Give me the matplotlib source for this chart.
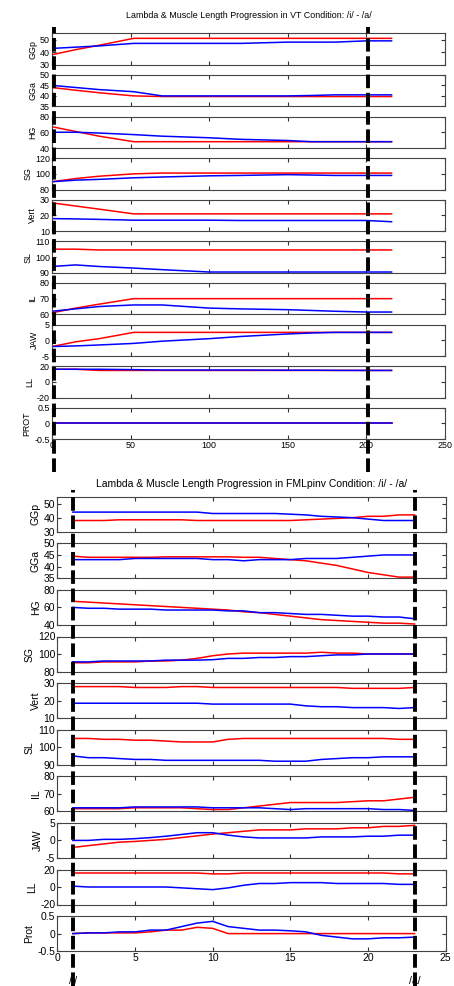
import matplotlib
matplotlib.use('Agg')
import matplotlib.pyplot as plt
import matplotlib.transforms as mtransforms
from matplotlib.ticker import FormatStrFormatter

plt.rcParams['font.family'] = ['Liberation Sans', 'DejaVu Sans']
plt.rcParams['axes.unicode_minus'] = False

W, H = 454, 986

# ---- shared axis setup ----
muscles_vt = ['GGp', 'GGa', 'HG', 'SG', 'Vert', 'SL', 'IL', 'JAW', 'LL', 'PROT']
muscles_fml = ['GGp', 'GGa', 'HG', 'SG', 'Vert', 'SL', 'IL', 'JAW', 'LL', 'Prot']
y_limits = [(30, 55), (35, 50), (40, 80), (80, 120), (10, 30),
            (90, 110), (60, 80), (-5, 5), (-20, 20), (-0.5, 0.5)]
y_ticks = [[30, 40, 50], [35, 40, 45, 50], [40, 60, 80], [80, 100, 120], [10, 20, 30],
           [90, 100, 110], [60, 70, 80], [-5, 0, 5], [-20, 0, 20], [-0.5, 0, 0.5]]

# ---- VT condition (top) ----
vt_t = [0, 15, 30, 52, 70, 100, 120, 150, 165, 180, 200, 216]
vt_onset, vt_offset = 1, 201
vt_xticks = [0, 50, 100, 150, 200, 250]

vt_ggp_red = [38, 42, 45.5, 51, 51, 51, 51, 51, 51, 51, 51, 51]
vt_ggp_blue = [43, 44, 45, 47, 47, 47, 47, 48, 48, 48, 49, 49]
vt_gga_red = [44, 42.7, 41.5, 40, 39.7, 39.7, 39.7, 39.7, 39.7, 39.7, 39.7, 39.7]
vt_gga_blue = [45, 44, 43, 42, 40, 40, 40, 40, 40.2, 40.5, 40.5, 40.5]
vt_hg_red = [67, 61, 55, 48, 48, 48, 48, 48, 48, 48, 48, 48]
vt_hg_blue = [60, 60, 59, 57, 55, 53, 51, 49.5, 48, 48, 48, 48]
vt_sg_red = [90, 94, 97, 100, 101, 101, 101, 101, 101, 101, 101, 101]
vt_sg_blue = [90, 92, 93, 95, 96, 97.5, 98, 99, 98.5, 98, 98, 98]
vt_vert_red = [28, 26, 24, 21, 21, 21, 21, 21, 21, 21, 21, 21]
vt_vert_blue = [18, 17.8, 17.5, 17, 17, 17, 16.8, 16.8, 16.8, 16.8, 16.8, 16]
vt_sl_red = [105, 105, 104.5, 104.5, 104.5, 104.5, 104.5, 104.5, 104.5, 104.5, 104.5, 104.5]
vt_sl_blue = [94, 95, 94, 93, 92, 90.5, 90.5, 90.5, 90.5, 90.5, 90.5, 90.5]
vt_il_red = [61, 64, 66.5, 70, 70, 70, 70, 70, 70, 70, 70, 70]
vt_il_blue = [62, 63.5, 65, 66, 66, 64, 63.5, 63, 62.5, 62, 61.5, 61.5]
vt_jaw_red = [-2, -0.5, 0.5, 2.5, 2.5, 2.5, 2.5, 2.5, 2.5, 2.5, 2.5, 2.5]
vt_jaw_blue = [-2, -1.8, -1.5, -1, -0.3, 0.5, 1.2, 2, 2.3, 2.5, 2.5, 2.5]
vt_ll_red = [16, 16, 14.5, 14.5, 14.5, 14.5, 14.5, 14.5, 14.5, 14.5, 14.5, 14.5]
vt_ll_blue = [16, 16, 16, 15.5, 15, 15, 15, 14.8, 14.8, 14.6, 14.5, 14.5]
vt_prot_red = [0, 0, 0, 0, 0, 0, 0, 0, 0, 0, 0, 0]
vt_prot_blue = [0, 0, 0, 0, 0, 0, 0, 0, 0, 0, 0, 0]

vt_red = [vt_ggp_red, vt_gga_red, vt_hg_red, vt_sg_red, vt_vert_red,
          vt_sl_red, vt_il_red, vt_jaw_red, vt_ll_red, vt_prot_red]
vt_blue = [vt_ggp_blue, vt_gga_blue, vt_hg_blue, vt_sg_blue, vt_vert_blue,
           vt_sl_blue, vt_il_blue, vt_jaw_blue, vt_ll_blue, vt_prot_blue]

# ---- FMLpinv condition (bottom) ----
fml_t = list(range(1, 24))
fml_onset, fml_offset = 1, 23
fml_xticks = [0, 5, 10, 15, 20, 25]

fml_ggp_red = [38, 38, 38, 38.5, 38.5, 38.5, 38.5, 38.5, 38, 38, 38, 38, 38, 38, 38,
               38.5, 39, 39.5, 40, 41, 41, 42, 42]
fml_ggp_blue = [44, 44, 44, 44, 44, 44, 44, 44, 44, 43, 43, 43, 43, 43, 42.5,
                42, 41, 40.5, 40, 39, 38, 38, 38]
fml_gga_red = [44.5, 44, 44, 44, 44, 44, 44.2, 44.2, 44.2, 44.2, 44.2, 44, 44, 43.5, 43,
               42.5, 41.5, 40.5, 39, 37.5, 36.5, 35.5, 35.5]
fml_gga_blue = [43, 43, 43, 43, 43.5, 43.5, 43.5, 43.5, 43.5, 43, 43, 42.5, 43, 43, 43,
                43.5, 43.5, 43.5, 44, 44.5, 45, 45, 45]
fml_hg_red = [67, 66, 65, 64, 63, 62, 61, 60, 59, 58, 57, 55, 54, 52, 50,
              48, 46, 45, 44, 43, 42, 42, 41]
fml_hg_blue = [60, 59, 59, 58, 58, 58, 57, 57, 57, 57, 56, 56, 54, 54, 53,
               52, 52, 51, 50, 50, 49, 49, 47]
fml_sg_red = [90, 90, 91, 91, 91, 92, 92, 93, 95, 98, 100, 101, 101, 101, 101,
              101, 102, 101, 101, 100, 100, 100, 100]
fml_sg_blue = [91, 91, 92, 92, 92, 92, 93, 93, 93, 93.5, 95, 95, 96, 96, 97,
               97, 98, 99, 99, 100, 100, 100, 100]
fml_vert_red = [28, 28, 28, 28, 27.5, 27.5, 27.5, 28, 28, 27.5, 27.5, 27.5, 27.5, 27.5, 27.5,
                27.5, 27.5, 27.5, 27, 27, 27, 27, 27.5]
fml_vert_blue = [18.5, 18.5, 18.5, 18.5, 18.5, 18.5, 18.5, 18.5, 18.5, 18, 18, 18, 18, 18, 18,
                 17, 16.5, 16.5, 16, 16, 16, 15.5, 16]
fml_sl_red = [105, 105, 104.5, 104.5, 104, 104, 103.5, 103, 103, 103, 104.5, 105, 105, 105, 105,
              105, 105, 105, 105, 105, 105, 104.5, 104.5]
fml_sl_blue = [95, 94, 94, 93.5, 93, 93, 92.5, 92.5, 92.5, 92.5, 92.5, 92.5, 92.5, 92, 92,
               92, 93, 93.5, 94, 94, 94.5, 94.5, 94.5]
fml_il_red = [61.5, 61.5, 61.5, 61.5, 62, 62, 62, 62, 61.5, 61, 61, 62, 63, 64, 65,
              65, 65, 65, 65.5, 66, 66, 67, 68]
fml_il_blue = [62, 62, 62, 62, 62.5, 62.5, 62.5, 62.5, 62.5, 62, 62, 62, 62, 61.5, 61,
               61.5, 61.5, 61.5, 61.5, 61.5, 61, 61, 60.5]
fml_jaw_red = [-2, -1.5, -1, -0.5, -0.3, 0, 0.3, 0.8, 1.3, 1.8, 2.2, 2.6, 3, 3, 3,
               3.3, 3.3, 3.3, 3.6, 3.6, 4, 4, 4.3]
fml_jaw_blue = [0, 0, 0.3, 0.3, 0.5, 0.8, 1.2, 1.7, 2.2, 2.2, 1.5, 1, 0.7, 0.7, 0.7,
                0.7, 1, 1, 1, 1.2, 1.2, 1.5, 1.5]
fml_ll_red = [16, 16, 16, 16, 16, 16, 16, 16, 16, 15, 15, 16, 16, 16, 16,
              16, 16, 16, 16, 16, 16, 15, 15]
fml_ll_blue = [1, 0, 0, 0, 0, 0, 0, -1, -2, -3, -1, 2, 4, 4, 5,
               5, 5, 4, 4, 4, 4, 3, 3]
fml_prot_red = [0, 0.02, 0.02, 0.02, 0.02, 0.05, 0.1, 0.1, 0.18, 0.15, 0, 0, 0, 0, 0,
                0, 0, 0, 0, 0, 0, 0, 0]
fml_prot_blue = [0, 0.02, 0.02, 0.05, 0.05, 0.1, 0.1, 0.2, 0.3, 0.35, 0.2, 0.15, 0.1, 0.1, 0.08,
                 0.05, -0.05, -0.1, -0.15, -0.15, -0.12, -0.12, -0.1]

fml_red = [fml_ggp_red, fml_gga_red, fml_hg_red, fml_sg_red, fml_vert_red,
           fml_sl_red, fml_il_red, fml_jaw_red, fml_ll_red, fml_prot_red]
fml_blue = [fml_ggp_blue, fml_gga_blue, fml_hg_blue, fml_sg_blue, fml_vert_blue,
            fml_sl_blue, fml_il_blue, fml_jaw_blue, fml_ll_blue, fml_prot_blue]


def px_box(x0, y0, x1, y1):
    # pixel box (from top-left) -> figure fraction rect
    return [x0 / W, 1 - y1 / H, (x1 - x0) / W, (y1 - y0) / H]


def draw_panel(fig, t, reds, blues, labels, xlim, xticks, onsets,
               left, right, top0, step, height, over_box, fs, title, title_y):
    axes = []
    for i in range(10):
        ax = fig.add_axes(px_box(left, top0 + i * step, right, top0 + i * step + height))
        ax.plot(t, reds[i], color='#ff0000', lw=1.1)
        ax.plot(t, blues[i], color='#0000ff', lw=1.1)
        ax.set_xlim(*xlim)
        ax.set_ylim(*y_limits[i])
        ax.set_yticks(y_ticks[i])
        ax.yaxis.set_major_formatter(FormatStrFormatter('%g'))
        ax.set_xticks(xticks)
        ax.set_ylabel(labels[i], fontsize=fs, labelpad=2)
        ax.tick_params(direction='in', top=True, right=True, length=3,
                       labelsize=fs, pad=1.5, color='#333333')
        for s in ax.spines.values():
            s.set_color('#444444')
            s.set_linewidth(0.8)
        if i < 9:
            ax.set_xticklabels([])
        axes.append(ax)
    fig.text(0.5 * (left + right) / W, 1 - title_y / H, title,
             ha='center', va='center', fontsize=fs)
    over = fig.add_axes(px_box(*over_box))
    over.set_xlim(*xlim)
    over.axis('off')
    for x in onsets:
        over.axvline(x, color='k', lw=2.8, ls=(0, (3.5, 1.2)))
    return axes


fig = plt.figure(figsize=(W / 100, H / 100), dpi=100)

draw_panel(fig, vt_t, vt_red, vt_blue, muscles_vt, (0, 250), vt_xticks,
           [vt_onset, vt_offset], 52, 445, 33.3, 41.6, 31.5,
           (52, 27, 445, 472), 6.4,
           'Lambda & Muscle Length Progression in VT Condition: /i/ - /a/', 15)

axes_fml = draw_panel(fig, fml_t, fml_red, fml_blue, muscles_fml, (0, 25), fml_xticks,
                      [fml_onset, fml_offset], 57.3, 445.7, 496.7, 46.6, 35,
                      (57.3, 490, 445.7, 986), 7.5,
                      'Lambda & Muscle Length Progression in FMLpinv Condition: /i/ - /a/', 484)

bt = mtransforms.blended_transform_factory(axes_fml[-1].transData, fig.transFigure)
axes_fml[-1].text(fml_onset, 1 - 981 / H, '/i/', transform=bt, ha='center', va='center', fontsize=7.5)
axes_fml[-1].text(fml_offset, 1 - 981 / H, '/a/', transform=bt, ha='center', va='center', fontsize=7.5)

fig.savefig('out.png', dpi=100)
